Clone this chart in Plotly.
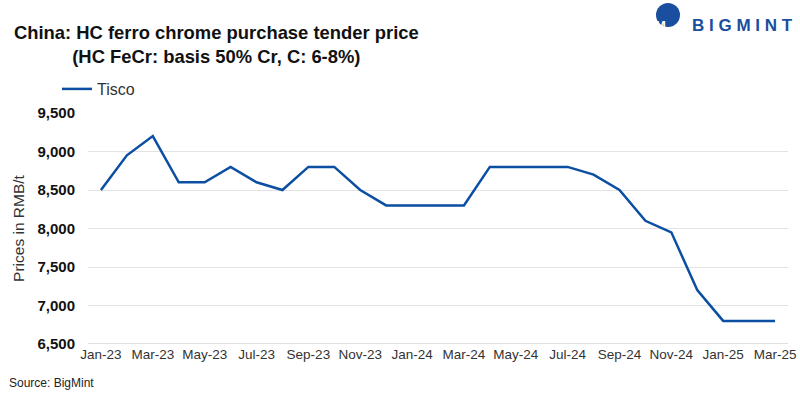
import plotly.graph_objects as go

months = ["Jan-23","Feb-23","Mar-23","Apr-23","May-23","Jun-23","Jul-23","Aug-23","Sep-23","Oct-23","Nov-23","Dec-23",
          "Jan-24","Feb-24","Mar-24","Apr-24","May-24","Jun-24","Jul-24","Aug-24","Sep-24","Oct-24","Nov-24","Dec-24",
          "Jan-25","Feb-25","Mar-25"]
tisco = [8500, 8950, 9200, 8600, 8600, 8800, 8600, 8500, 8800, 8800, 8500, 8300,
         8300, 8300, 8300, 8800, 8800, 8800, 8800, 8700, 8500, 8100, 7950, 7200,
         6800, 6800, 6800]
tick_labels = months[::2]
y_ticks = [6500, 7000, 7500, 8000, 8500, 9000, 9500]

BLUE = "#0b4ea2"
SANS = "Liberation Sans, Arial, sans-serif"
NARROW = "Liberation Sans Narrow, Arial Narrow, Liberation Sans, sans-serif"

fig = go.Figure()
fig.add_trace(go.Scatter(x=months, y=tisco, mode="lines", name="Tisco",
                         line=dict(color=BLUE, width=2.5)))

fig.update_layout(
    width=800, height=398,
    margin=dict(l=88, r=12, t=113, b=54, autoexpand=False),
    plot_bgcolor="white", paper_bgcolor="white",
    showlegend=True,
    legend=dict(orientation="h", x=(57 - 88) / 700, xanchor="left", y=1 - 89 / 398, yanchor="middle", yref="container",
                font=dict(family=SANS, size=16, color="#333333"),
                bgcolor="rgba(0,0,0,0)"),
    xaxis=dict(type="category", categoryorder="array", categoryarray=months,
               tickmode="array", tickvals=tick_labels, ticktext=tick_labels,
               tickfont=dict(family=NARROW, size=13.5, color="#333333"),
               showgrid=False, showline=False, ticks="", ticklen=0, range=[-0.5, 26.5],
               automargin=False),
    yaxis=dict(range=[6500, 9500], tickvals=y_ticks, tickformat=",",
               tickfont=dict(family=SANS, size=15, color="#111111", weight="bold"),
               showgrid=True, gridcolor="#e3e3e3", gridwidth=1, zeroline=False, showline=False,
               ticks="", ticklabelstandoff=12, automargin=False,
               title=dict(text="Prices in RMB/t", standoff=9,
                          font=dict(family=SANS, size=15.5, color="#333333"))),
)

# bottom axis line
fig.add_shape(type="line", xref="paper", yref="y", x0=0, x1=1, y0=6500, y1=6500,
              line=dict(color="#d6d6d6", width=1.5))

fig.add_annotation(text="<b>China: HC ferro chrome purchase tender price</b><br><b>(HC FeCr: basis 50% Cr, C: 6-8%)</b>",
                   xref="paper", yref="paper", x=(13 - 88) / 700, y=1.0, xanchor="left", yanchor="top",
                   yshift=92, align="center", showarrow=False, borderpad=0,
                   font=dict(family=SANS, size=18.4, color="#111111"))

fig.add_annotation(text="Source: BigMint", xref="paper", yref="paper", x=(8 - 88) / 700, y=0, xanchor="left", yanchor="middle",
                   yshift=-39, showarrow=False, borderpad=0,
                   font=dict(family=NARROW, size=12, color="#222222"))

# logo
fig.add_shape(type="circle", xref="paper", yref="paper", xsizemode="pixel", ysizemode="pixel",
              xanchor=(668 - 88) / 700, yanchor=1.0, x0=-12, x1=12, y0=86, y1=110,
              fillcolor="#1a4fa0", line=dict(width=0))
fig.add_annotation(text="<b>M</b>", xref="paper", yref="paper", x=(668 - 88) / 700, y=1.0, yshift=97,
                   showarrow=False, font=dict(family=SANS, size=13, color="white"))
fig.add_annotation(text="<b>B I G M I N T</b>", xref="paper", yref="paper", x=(794 - 88) / 700, y=1.0, xanchor="right",
                   yshift=98, showarrow=False, borderpad=0,
                   font=dict(family=SANS, size=17, color="#1a4fa0"))

fig.write_html("out.html", config={"displayModeBar": False},
               post_script="document.body.style.margin='0';document.body.style.padding='0';")
